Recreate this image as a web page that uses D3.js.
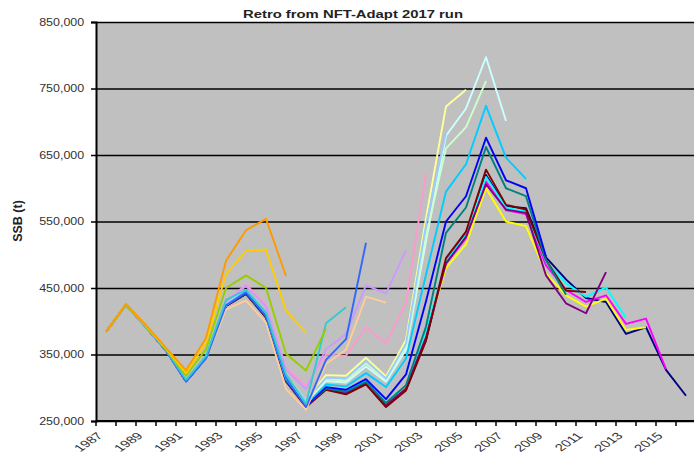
<!DOCTYPE html>
<html>
<head>
<meta charset="utf-8">
<script src="https://cdn.jsdelivr.net/npm/d3@7"></script>
<style>
  body { margin: 0; background: #fff; }
  text { font-family: "Liberation Sans", Arial, sans-serif; }
</style>
</head>
<body>
<script>
const width = 694;
const height = 455;

// years on the category axis
const years = d3.range(1987, 2017);

// SSB (thousand t) for each retro peel, starting at 1987
const ssb2016 = [384, 425, 391, 356, 310, 345, 423, 441, 406, 310, 272, 298, 291, 306, 272, 297, 372, 490, 532, 620, 573, 570, 496, 463, 435, 429, 381, 391, 327, 288];
const ssb2015 = [384, 425, 391, 356, 310, 345, 424, 442, 407, 311, 273, 300, 293, 308, 274, 299, 377, 487, 525, 610, 567, 561, 484, 447, 429, 439, 396, 404, 328];
const ssb2014 = [384, 425, 391, 356, 310, 345, 424, 442, 407, 311, 273, 301, 295, 309, 276, 300, 380, 480, 516, 600, 550, 543, 472, 439, 422, 434, 387, 391];
const ssb2013 = [384, 425, 391, 356, 310, 345, 424, 443, 408, 312, 274, 302, 296, 311, 278, 303, 385, 490, 530, 617, 571, 565, 490, 457, 437, 451, 405];
const ssb2012 = [384, 425, 391, 356, 310, 345, 424, 442, 407, 311, 273, 299, 293, 307, 274, 299, 376, 487, 527, 606, 568, 563, 469, 427, 412, 474];
const ssb2011 = [384, 425, 391, 356, 310, 345, 423, 441, 406, 310, 271, 297, 290, 305, 271, 296, 371, 495, 535, 628, 575, 568, 492, 446, 444];
const ssb2010 = [384, 425, 391, 356, 310, 345, 424, 442, 407, 311, 273, 299, 294, 309, 277, 304, 392, 533, 571, 662, 600, 588, 492, 440];
const ssb2009 = [384, 425, 391, 356, 310, 345, 424, 443, 408, 312, 273, 301, 297, 313, 283, 320, 430, 550, 588, 676, 612, 600, 497];
const ssb2008 = [384, 425, 391, 356, 310, 345, 424, 444, 409, 313, 275, 305, 302, 322, 301, 344, 470, 595, 636, 724, 646, 614];
const ssb2007 = [384, 425, 391, 356, 311, 346, 425, 446, 411, 316, 278, 310, 308, 332, 309, 357, 520, 679, 720, 797, 701];
const ssb2006 = [384, 425, 391, 356, 311, 346, 425, 446, 411, 317, 279, 313, 311, 337, 312, 362, 528, 660, 692, 761];
const ssb2005 = [384, 425, 391, 357, 311, 346, 426, 447, 412, 318, 281, 319, 318, 345, 317, 372, 555, 723, 748];
const ssb2004 = [384, 425, 391, 357, 311, 346, 426, 447, 412, 318, 281, 315, 314, 340, 314, 366, 545, 684];
const ssb2003 = [384, 425, 391, 357, 311, 346, 430, 455, 425, 330, 303, 350, 348, 391, 367, 428, 623];
const ssb2002 = [384, 425, 391, 357, 311, 346, 429, 453, 422, 327, 298, 358, 381, 454, 442, 507];
const ssb2001 = [384, 425, 391, 357, 311, 344, 418, 431, 398, 298, 267, 336, 357, 437, 428];
const ssb2000 = [384, 425, 391, 356, 309, 344, 424, 444, 408, 315, 271, 342, 373, 518];
const ssb1999 = [384, 425, 391, 357, 312, 348, 432, 447, 413, 320, 276, 397, 421];
const ssb1998 = [384, 425, 392, 358, 318, 358, 450, 469, 450, 351, 326, 389];
const ssb1997 = [384, 426, 393, 359, 322, 368, 471, 506, 508, 416, 383];
const ssb1996 = [384, 426, 394, 360, 326, 375, 491, 537, 554, 468];

const runs = [ssb2016, ssb2015, ssb2014, ssb2013, ssb2012, ssb2011, ssb2010,
  ssb2009, ssb2008, ssb2007, ssb2006, ssb2005, ssb2004, ssb2003, ssb2002,
  ssb2001, ssb2000, ssb1999, ssb1998, ssb1997, ssb1996];

const colors = ["#000080", "#ff00ff", "#ffff00", "#00ffff", "#800080", "#800000",
  "#008080", "#0000ff", "#00ccff", "#ccffff", "#ccffcc", "#ffff99", "#99ccff",
  "#ff99cc", "#cc99ff", "#ffcc99", "#3366ff", "#33cccc", "#99cc00", "#ffcc00", "#ff9900"];

const yTicks = [250, 350, 450, 550, 650, 750, 850];

const margin = { left: 96, top: 22, right: -2, bottom: 34 };

let svg = d3.select("body")
  .append("svg")
  .attr("width", width)
  .attr("height", height);

const x = d3.scaleBand().domain(years).range([margin.left, width - margin.right]);
const y = d3.scaleLinear().domain([250, 850]).range([height - margin.bottom, margin.top]);

// grey plot area
svg.append("rect")
  .attr("x", margin.left)
  .attr("y", margin.top)
  .attr("width", width - margin.right - margin.left)
  .attr("height", y(250) - y(850))
  .attr("fill", "#c0c0c0");

// gridlines
svg.append("g")
  .attr("transform", `translate(${margin.left},0)`)
  .call(d3.axisLeft(y).tickValues(yTicks).tickSize(-(width - margin.left)).tickFormat(""))
  .call(g => g.select(".domain").remove())
  .selectAll("line")
  .attr("stroke", "#000")
  .attr("stroke-width", 1.6);

// lines
const line = d3.line()
  .x((d, i) => x(years[i]) + x.bandwidth() / 2)
  .y(d => y(d));

svg.append("g")
  .selectAll("path")
  .data(runs)
  .join("path")
  .attr("d", line)
  .attr("fill", "none")
  .attr("stroke", (d, i) => colors[i])
  .attr("stroke-width", 1.9)
  .attr("stroke-linejoin", "round");

// y axis
svg.append("g")
  .attr("transform", `translate(${margin.left},0)`)
  .call(d3.axisLeft(y).tickValues(yTicks).tickSize(5).tickPadding(4)
    .tickFormat(d => d3.format(",")(d * 1000)))
  .call(g => g.select(".domain").attr("stroke", "#000").attr("stroke-width", 2))
  .call(g => g.selectAll(".tick line").attr("stroke", "#000").attr("stroke-width", 1.5))
  .call(g => g.selectAll(".tick text")
    .attr("fill", "#333")
    .attr("font-size", 10)
    .attr("transform", "translate(-8,0) scale(1.25,1)")
    .attr("x", -3));

// x axis
const xAxis = svg.append("g")
  .attr("transform", `translate(0,${y(250)})`);

xAxis.append("line")
  .attr("x1", margin.left)
  .attr("x2", width)
  .attr("stroke", "#000")
  .attr("stroke-width", 2);

xAxis.selectAll(".tm")
  .data(years)
  .join("line")
  .attr("class", "tm")
  .attr("x1", d => x(d))
  .attr("x2", d => x(d))
  .attr("y1", 0)
  .attr("y2", 5)
  .attr("stroke", "#000")
  .attr("stroke-width", 1.5);

xAxis.selectAll(".lab")
  .data(years.filter(d => (d - 1987) % 2 === 0))
  .join("text")
  .attr("class", "lab")
  .attr("transform", d => `translate(${x(d) + x.bandwidth() / 2 - 6},13) scale(1.5,1) rotate(-45)`)
  .attr("text-anchor", "end")
  .attr("dy", "0.35em")
  .attr("font-size", 10)
  .attr("fill", "#333")
  .text(d => d);

// axis title
svg.append("text")
  .attr("transform", "translate(22,221) rotate(-90)")
  .attr("text-anchor", "middle")
  .attr("font-size", 12.5)
  .attr("font-weight", "bold")
  .attr("fill", "#222")
  .text("SSB (t)");

// chart title
svg.append("text")
  .attr("transform", "translate(353,18) scale(1.35,1)")
  .attr("text-anchor", "middle")
  .attr("font-size", 11)
  .attr("font-weight", "bold")
  .attr("fill", "#222")
  .text("Retro from NFT-Adapt 2017 run");
</script>
</body>
</html>
